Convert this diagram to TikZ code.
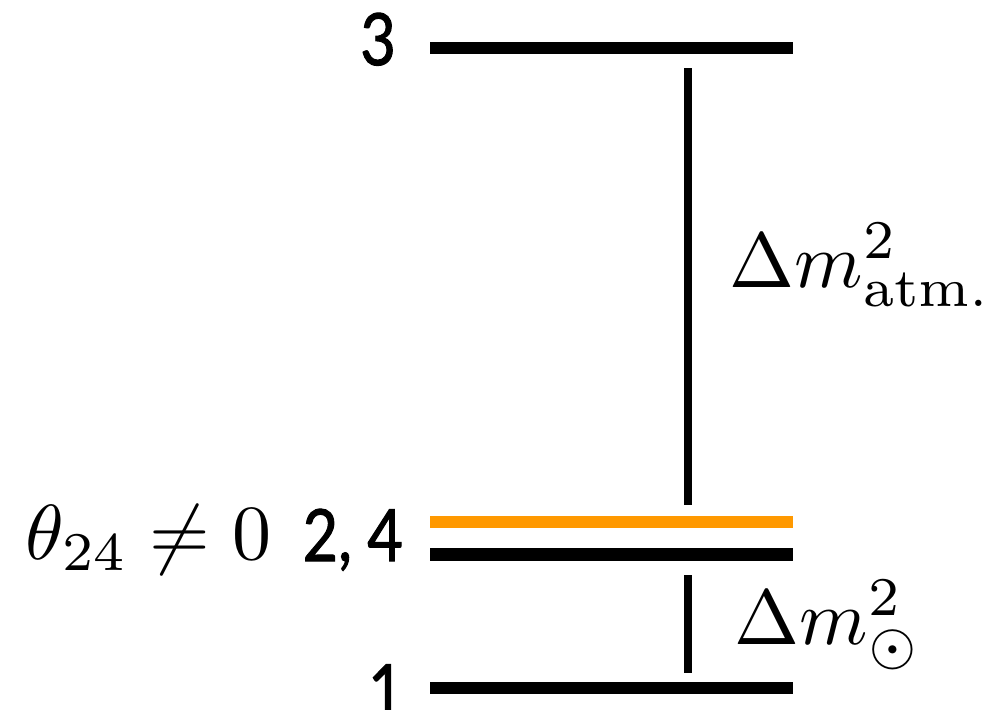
\documentclass[tikz,border=0pt]{standalone}
\usepackage{fontspec}
\newfontfamily\digitfont[FakeBold=1.5]{Lato}
\definecolor{lvlorange}{RGB}{255,153,0}
\tikzset{
  level/.style={line width=12.5pt},
  gapline/.style={line width=8pt},
  digit/.style={font=\digitfont\fontsize{72}{86}\selectfont, inner sep=0pt, xscale=0.85},
  mathlbl/.style={scale=7.8, inner sep=0pt}
}
\begin{document}
\begin{tikzpicture}[x=1pt,y=-1pt]
\useasboundingbox (0,0) rectangle (994,710);
% level end points
\coordinate (l3a) at (430,48);  \coordinate (l3b) at (793,48);
\coordinate (l4a) at (430,522); \coordinate (l4b) at (793,522);
\coordinate (l2a) at (430,554.5); \coordinate (l2b) at (793,554.5);
\coordinate (l1a) at (430,688); \coordinate (l1b) at (793,688);
% gap markers
\coordinate (v1a) at (688,68);  \coordinate (v1b) at (688,505);
\coordinate (v2a) at (688,575); \coordinate (v2b) at (688,673);
% levels
\draw[level] (l3a) -- (l3b);
\draw[level,lvlorange] (l4a) -- (l4b);
\draw[level] (l2a) -- (l2b);
\draw[level] (l1a) -- (l1b);
% splittings
\draw[gapline] (v1a) -- (v1b);
\draw[gapline] (v2a) -- (v2b);
% labels
\node[digit, anchor=base east] (n3) at (396,65) {3};
\node[digit, anchor=base east] (n24) at (403,561) {2,\hspace{0.25em}4};
\node[digit, anchor=base west] (n1) at (368,716) {1};
\node[mathlbl, anchor=base west] (th) at (24,559) {$\theta_{24}\neq 0$};
\node[mathlbl, anchor=base west] (atm) at (728,287) {$\Delta m^2_{\mathrm{atm.}}$};
\node[mathlbl, anchor=base west] (sol) at (733,644) {$\Delta m^2_{\odot}$};
\end{tikzpicture}
\end{document}
